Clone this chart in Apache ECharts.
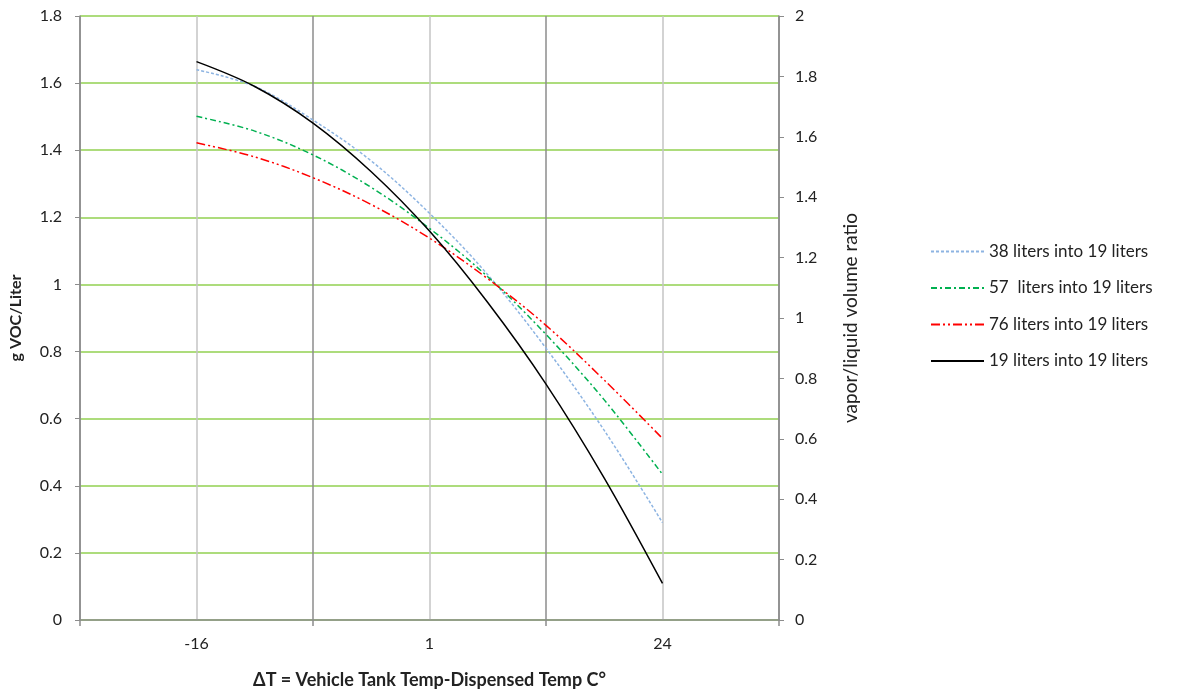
<!DOCTYPE html>
<html>
<head>
<meta charset="utf-8">
<script src="https://cdn.jsdelivr.net/npm/echarts@6/dist/echarts.min.js"></script>
<style>
  html,body{margin:0;padding:0;background:#fff;}
  #chart{width:1179px;height:694px;}
</style>
</head>
<body>
<div id="chart"></div>
<script>
"use strict";

// positions along the x axis (tick 1 = -16, tick 3 = 1, tick 5 = 24)
var xPos=[1,1.5,2,2.5,3,3.5,4,4.5,5];
var tickLabels=['','-16','','1','','24',''];

var seriesNames=['38 liters into 19 liters','57  liters into 19 liters','76 liters into 19 liters','19 liters into 19 liters'];
var blue38=[1.640,1.590,1.490,1.368,1.212,1.029,0.810,0.565,0.290];
var green57=[1.501,1.457,1.386,1.289,1.167,1.023,0.851,0.656,0.434];
var red76=[1.422,1.380,1.318,1.238,1.138,1.017,0.878,0.715,0.541];
var black19=[1.664,1.590,1.481,1.336,1.159,0.946,0.703,0.423,0.109];

var FONT='Lato';

function pairs(ys){
  return ys.map(function(v,i){return [xPos[i],v];});
}

function mkLine(name,ys,color,dash,width){
  return {
    name:name,
    type:'line',
    xAxisIndex:0,
    yAxisIndex:0,
    data:pairs(ys),
    smooth:0.35,
    symbol:'none',
    animation:false,
    lineStyle:{color:color,width:width,type:dash},
    itemStyle:{color:color}
  };
}

var chart=echarts.init(document.getElementById('chart'));

chart.setOption({
  backgroundColor:'#fff',
  animation:false,
  textStyle:{fontFamily:FONT,color:'#222'},
  grid:{left:80,right:400,top:16,bottom:69},
  legend:{
    orient:'vertical',
    left:925,
    top:238,
    itemWidth:53,
    itemHeight:14,
    itemGap:19.5,
    itemStyle:{opacity:0},
    textStyle:{fontFamily:FONT,fontSize:17,color:'#222'},
    data:seriesNames
  },
  xAxis:[{
    type:'value',
    min:0,max:6,interval:1,
    position:'bottom',
    name:'ΔT = Vehicle Tank Temp-Dispensed Temp C°',
    nameLocation:'middle',
    nameGap:51,
    nameTextStyle:{fontFamily:FONT,fontSize:18,fontWeight:'bold',color:'#222'},
    axisLine:{show:true,onZero:false,lineStyle:{color:'#8c8c8c',width:1.5}},
    axisTick:{show:false},
    axisLabel:{
      fontFamily:FONT,fontSize:16,color:'#222',margin:16,
      formatter:function(v){return tickLabels[Math.round(v)]||'';}
    },
    splitLine:{show:true,lineStyle:{color:['#8c8c8c','#c4c4c4'],width:1.5}}
  },{
    type:'value',
    min:0,max:6,interval:2,
    position:'bottom',
    axisLine:{show:false,onZero:false},
    axisTick:{show:true,length:6,lineStyle:{color:'#8c8c8c',width:1.5}},
    axisLabel:{show:false},
    splitLine:{show:false}
  }],
  yAxis:[{
    type:'value',
    min:0,max:1.8,interval:0.2,
    position:'left',
    name:'g VOC/Liter',
    nameLocation:'middle',
    nameGap:56,
    nameTextStyle:{fontFamily:FONT,fontSize:16,fontWeight:'bold',color:'#222'},
    axisLine:{show:true,onZero:false,lineStyle:{color:'#8c8c8c',width:1.5}},
    axisTick:{show:true,length:5,lineStyle:{color:'#8c8c8c'}},
    axisLabel:{fontFamily:FONT,fontSize:16,color:'#222',margin:18},
    splitLine:{show:true,lineStyle:{color:'#92d050',width:1.5}}
  },{
    type:'value',
    min:0,max:2,interval:0.2,
    position:'right',
    name:'vapor/liquid volume ratio',
    nameLocation:'middle',
    nameGap:62,
    nameTextStyle:{fontFamily:FONT,fontSize:19,color:'#222'},
    axisLine:{show:true,onZero:false,lineStyle:{color:'#8c8c8c',width:1.5}},
    axisTick:{show:true,length:5,lineStyle:{color:'#8c8c8c'}},
    axisLabel:{fontFamily:FONT,fontSize:16,color:'#222',margin:16},
    splitLine:{show:false}
  }],
  series:[
    mkLine(seriesNames[0],blue38,'#8db4e2',[3,2],1.5),
    mkLine(seriesNames[1],green57,'#00b050',[6,3,2,3],1.5),
    mkLine(seriesNames[2],red76,'#ff0000',[9,3,2,3,2,3],1.5),
    mkLine(seriesNames[3],black19,'#000000','solid',1.5)
  ]
});
</script>
</body>
</html>
